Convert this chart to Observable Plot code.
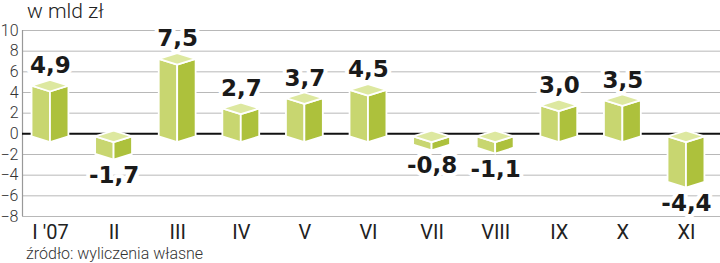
<!DOCTYPE html>
<html>
<head>
<meta charset="utf-8">
<script src="https://cdn.jsdelivr.net/npm/d3@7"></script>
<script src="https://cdn.jsdelivr.net/npm/@observablehq/plot@0.6"></script>
<style>
  html, body { margin: 0; padding: 0; background: #fff; }
  body { width: 720px; height: 263px; overflow: hidden; font-family: Roboto, "Liberation Sans", sans-serif; }
  #title { height: 22px; line-height: 22px; padding-left: 27px; font-size: 21px; font-weight: 300; color: #222; }
  #caption { height: 18px; line-height: 18px; padding-left: 26px; font-size: 16px; font-weight: 300; color: #333; }
  svg { display: block; }
</style>
</head>
<body>
<div id="title">w mld zł</div>
<div id="chart"></div>
<div id="caption">źródło: wyliczenia własne</div>
<script>
const months = ["I '07", "II", "III", "IV", "V", "VI", "VII", "VIII", "IX", "X", "XI"];
const values = [4.9, -1.7, 7.5, 2.7, 3.7, 4.5, -0.8, -1.1, 3.0, 3.5, -4.4];
const yTicks = [-8, -6, -4, -2, 0, 2, 4, 6, 8, 10];

const w = 0.29;   // half box width (x units)
const H = 0.56;   // half diamond height (y units)

const faces = [];
values.forEach((v, i) => {
  const t = Math.max(v, 0), b = Math.min(v, 0);
  faces.push(
    {face: "front", id: i + "f", x: i - w, y1: b, y2: t},
    {face: "front", id: i + "f", x: i, y1: b - H, y2: t - H},
    {face: "side", id: i + "s", x: i, y1: b - H, y2: t - H},
    {face: "side", id: i + "s", x: i + w, y1: b, y2: t},
    {face: "top", id: i + "t", x: i - w, y1: t, y2: t},
    {face: "top", id: i + "t", x: i, y1: t - H, y2: t + H},
    {face: "top", id: i + "t", x: i + w, y1: t, y2: t}
  );
});
const faceColor = {front: "#c8d670", side: "#adc13c", top: "#dde8a0"};
const labels = values.map((v, i) => ({x: i, v, text: String(v.toFixed(1)).replace(".", ",")}));

const chart = Plot.plot({
  width: 720,
  height: 223,
  marginLeft: 22,
  marginRight: 0,
  marginTop: 8,
  marginBottom: 29,
  style: {fontFamily: "Roboto, 'Liberation Sans', sans-serif", background: "#fff"},
  x: {domain: [-0.44, 10.535], axis: null},
  y: {domain: [-8, 10], axis: null},
  marks: [
    Plot.ruleY(yTicks.filter(d => d !== 0), {stroke: "#b8b8b8", strokeWidth: 1}),
    Plot.ruleX([-0.44], {y1: -8, y2: 10, stroke: "#999", strokeWidth: 1.2}),
    Plot.ruleY([0], {stroke: "#111", strokeWidth: 2}),
    Plot.areaY(faces, {x: "x", y1: "y1", y2: "y2", z: "id", fill: d => faceColor[d.face], stroke: "#fff", strokeWidth: 1.8, strokeLinejoin: "round", dy: 3}),
    Plot.text(labels.filter(d => d.v >= 0), {x: "x", y: "v", text: "text", lineAnchor: "bottom", dy: -10, fontSize: 23, fontWeight: "bold", fontFamily: "DejaVu Sans", fill: "#1a1a1a", stroke: "#fff", strokeWidth: 8, paintOrder: "stroke"}),
    Plot.text(labels.filter(d => d.v < 0), {x: "x", y: "v", text: "text", lineAnchor: "top", dy: 15, fontSize: 23, fontWeight: "bold", fontFamily: "DejaVu Sans", fill: "#1a1a1a", stroke: "#fff", strokeWidth: 8, paintOrder: "stroke"}),
    Plot.axisY(yTicks, {anchor: "left", tickSize: 0, tickPadding: 4, fontSize: 16, fontWeight: 300, fill: "#333", label: null}),
    Plot.axisX(d3.range(months.length), {anchor: "bottom", tickSize: 0, tickPadding: 8, fontSize: 20, fontWeight: 400, fill: "#222", tickFormat: i => months[i], label: null})
  ]
});
document.getElementById("chart").appendChild(chart);
</script>
</body>
</html>
